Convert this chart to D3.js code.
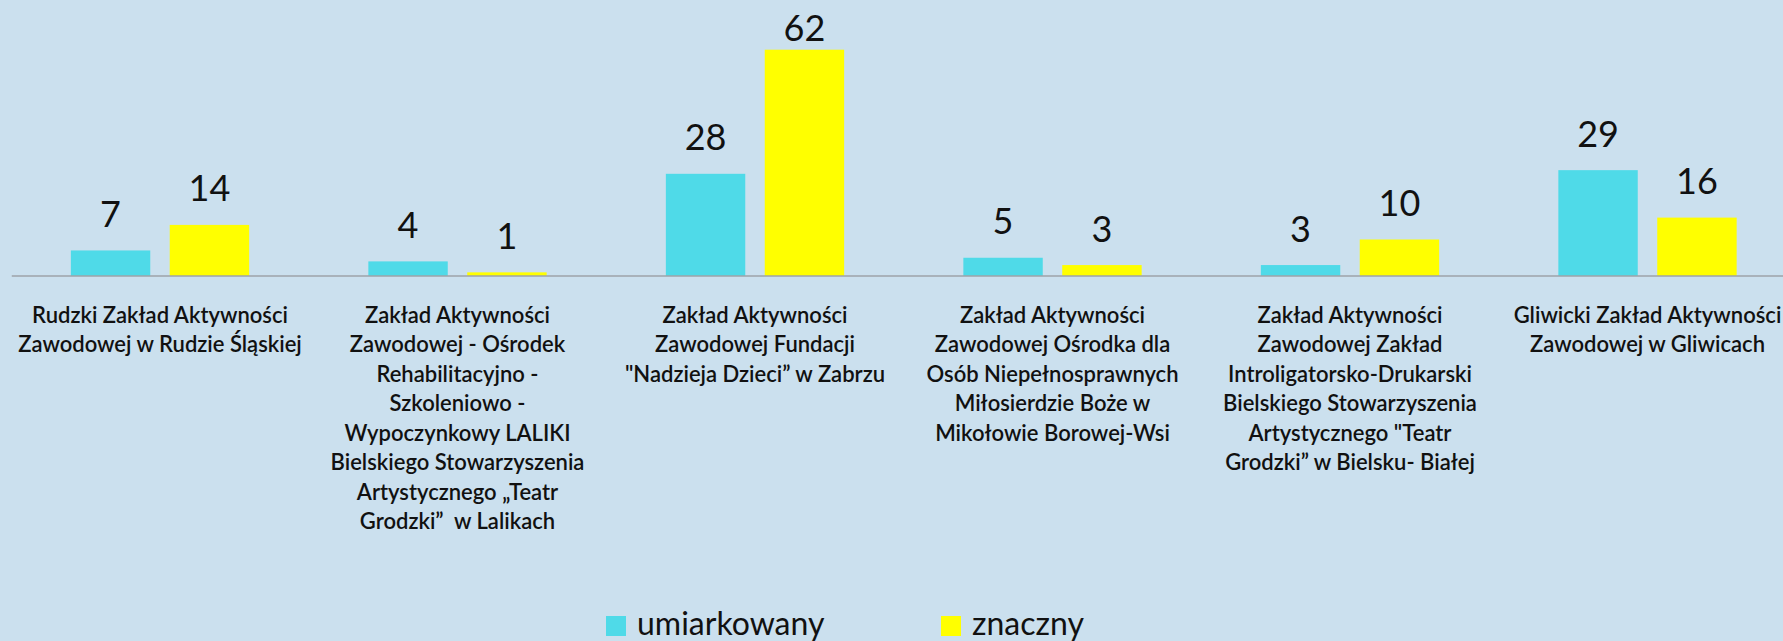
<!DOCTYPE html>
<html>
<head>
<meta charset="utf-8">
<script src="https://cdn.jsdelivr.net/npm/d3@7/dist/d3.min.js"></script>
<style>
  html, body { margin: 0; padding: 0; background: #cbe0ee; overflow: hidden; }
  svg { display: block; }
  .cat-label { font-family: Lato, "Open Sans", sans-serif; font-size: 22px; font-weight: 600; fill: #111; white-space: pre; }
  .val-label { font-family: Lato, "Open Sans", sans-serif; font-size: 36px; fill: #111; }
  .legend-label { font-family: Lato, "Open Sans", sans-serif; font-size: 32px; fill: #111; }
</style>
</head>
<body>
<div id="chart"></div>
<script>
// Dane: liczba osób wg stopnia niepełnosprawności w ZAZ-ach

const categories = [
  "Rudzki Zakład Aktywności\nZawodowej w Rudzie Śląskiej",
  "Zakład Aktywności\nZawodowej - Ośrodek\nRehabilitacyjno -\nSzkoleniowo -\nWypoczynkowy LALIKI\nBielskiego Stowarzyszenia\nArtystycznego „Teatr\nGrodzki”  w Lalikach",
  "Zakład Aktywności\nZawodowej Fundacji\n\"Nadzieja Dzieci” w Zabrzu",
  "Zakład Aktywności\nZawodowej Ośrodka dla\nOsób Niepełnosprawnych\nMiłosierdzie Boże w\nMikołowie Borowej-Wsi",
  "Zakład Aktywności\nZawodowej Zakład\nIntroligatorsko-Drukarski\nBielskiego Stowarzyszenia\nArtystycznego \"Teatr\nGrodzki” w Bielsku- Białej",
  "Gliwicki Zakład Aktywności\nZawodowej w Gliwicach"
];

const seriesNames = ["umiarkowany", "znaczny"];
const umiarkowany = [7, 4, 28, 5, 3, 29];
const znaczny = [14, 1, 62, 3, 10, 16];

const seriesColors = ["#4fdae8", "#ffff00"];

function renderChart() {
  const width = 1783;
  const height = 641;

  const svg = d3.select('#chart').append('svg')
    .attr('width', width)
    .attr('height', height);

  svg.append('rect')
    .attr('width', width)
    .attr('height', height)
    .attr('fill', '#cbe0ee');

  const data = categories.map((c, i) => ({
    category: c,
    values: [umiarkowany[i], znaczny[i]]
  }));

  // plot area runs past the right edge (the original is cropped there)
  const x = d3.scaleBand()
    .domain(categories)
    .range([11.25, 1796.25])
    .padding(0);

  const outer = 59.6;
  const x1 = d3.scaleBand()
    .domain(seriesNames)
    .range([outer, x.bandwidth() - outer])
    .paddingInner(0.197)
    .paddingOuter(0);

  const y = d3.scaleLinear()
    .domain([0, 70])
    .range([276, 20.5]);

  const color = d3.scaleOrdinal().domain(seriesNames).range(seriesColors);

  const groups = svg.selectAll('.group')
    .data(data)
    .enter()
    .append('g')
    .attr('class', 'group')
    .attr('transform', d => `translate(${x(d.category)},0)`);

  groups.selectAll('rect')
    .data(d => d.values.map((v, k) => ({ key: seriesNames[k], value: v })))
    .enter()
    .append('rect')
    .attr('x', d => x1(d.key))
    .attr('y', d => y(d.value))
    .attr('width', x1.bandwidth())
    .attr('height', d => y(0) - y(d.value))
    .attr('fill', d => color(d.key));

  // etykiety wartości - Excel dociska najwyższą do krawędzi wykresu
  groups.selectAll('.val-label')
    .data(d => d.values.map((v, k) => ({ key: seriesNames[k], value: v })))
    .enter()
    .append('text')
    .attr('class', 'val-label')
    .attr('x', d => x1(d.key) + x1.bandwidth() / 2)
    .attr('y', d => Math.max(y(d.value) - 23.5, 41))
    .attr('text-anchor', 'middle')
    .text(d => d.value);

  const axis = svg.append('g')
    .attr('transform', `translate(0,${275.5})`)
    .call(d3.axisBottom(x).tickSize(0).tickSizeOuter(0).tickPadding(0));

  axis.select('.domain')
    .attr('stroke', '#9ea3a8')
    .attr('stroke-width', 1.6);

  axis.selectAll('.tick text').each(function(d) {
    const t = d3.select(this);
    t.text(null)
      .attr('class', 'cat-label')
      .attr('y', 0)
      .attr('dy', null)
      .attr('fill', null)
      .attr('font-size', null)
      .attr('font-family', null);
    d.split('\n').forEach((line, i) => {
      t.append('tspan')
        .attr('x', 0)
        .attr('y', 47 + i * 29.5)
        .text(line);
    });
  });

  // legenda
  const legendX = [606, 941];
  const legend = svg.append('g').attr('class', 'legend');
  seriesNames.forEach((name, i) => {
    const item = legend.append('g').attr('transform', `translate(${legendX[i]},616)`);
    item.append('rect')
      .attr('width', 20)
      .attr('height', 20)
      .attr('fill', color(name));
    item.append('text')
      .attr('class', 'legend-label')
      .attr('x', 31)
      .attr('y', 19)
      .text(name);
  });
}

renderChart();
</script>
</body>
</html>
